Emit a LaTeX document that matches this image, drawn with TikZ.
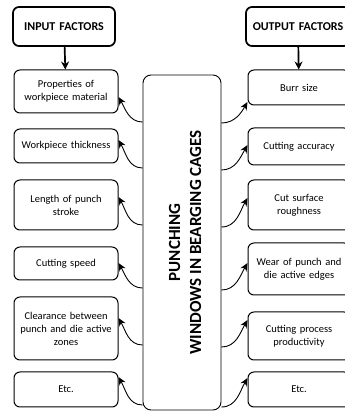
\documentclass[tikz,border=0pt]{standalone}
\usepackage{fontspec}
\setmainfont{Carlito}
\usepackage{tikz}
\usetikzlibrary{arrows.meta}

\begin{document}
\begin{tikzpicture}[x=1pt,y=1pt]
	\tikzset{factor/.style={draw,rounded corners=6pt,line width=1pt,align=center,text width=100pt,inner sep=2pt,font=\fontsize{10.5}{13}\selectfont},
		head/.style={factor,line width=1.7pt,font=\fontsize{12}{14}\selectfont\bfseries},
		flow/.style={-{Stealth[length=8pt,width=7pt]},line width=0.9pt}}
	\useasboundingbox (0,0) rectangle (345,413);

	%% input side
	\node[head,text width=98pt,minimum height=39pt] (in0) at (64,386.5) {INPUT FACTORS};
	\node[factor,minimum height=43pt] (in1) at (66,321.5) {Properties of\\workpiece material};
	\node[factor,minimum height=34pt] (in2) at (66,267) {Workpiece thickness};
	\node[factor,minimum height=50pt] (in3) at (66,208) {Length of punch\\stroke};
	\node[factor,minimum height=33pt] (in4) at (66,149.5) {Cutting speed};
	\node[factor,minimum height=63pt] (in5) at (66,84.5) {Clearance between\\punch and die active\\zones};
	\node[factor,minimum height=35pt] (in6) at (66,23.5) {Etc.};

	%% output side
	\node[head,text width=100pt,minimum height=39pt] (out0) at (298,386.5) {OUTPUT FACTORS};
	\node[factor,text width=98pt,minimum height=35pt] (out1) at (299,325.5) {Burr size};
	\node[factor,text width=98pt,minimum height=37pt] (out2) at (299,266.5) {Cutting accuracy};
	\node[factor,text width=98pt,minimum height=50pt] (out3) at (299,208) {Cut surface\\roughness};
	\node[factor,text width=98pt,minimum height=52pt] (out4) at (299,144) {Wear of punch and\\die active edges};
	\node[factor,text width=98pt,minimum height=48pt] (out5) at (299,77) {Cutting process\\productivity};
	\node[factor,text width=98pt,minimum height=35pt] (out6) at (299,23.5) {Etc.};

	%% process
	\node[draw,rounded corners=8pt,line width=0.9pt,minimum width=78pt,minimum height=335pt] (punch) at (182,170.5) {};
	\node[rotate=90,align=center,font=\fontsize{17}{21}\selectfont\bfseries] (title) at ([xshift=3pt]punch.center) {PUNCHING\\WINDOWS IN BEARGING CAGES};

	\path[flow,line width=1.7pt,-{Stealth[length=8pt,width=8pt]}]
		(in0) edge (in1)
		(out0) edge (out1);

	\path[flow]
		([yshift=-30.5pt]in1.east -| punch.west) edge[out=180,in=-60] ([yshift=-5.5pt]in1.east)
		([yshift=-22pt]in2.east -| punch.west) edge[out=180,in=-60] ([yshift=6pt]in2.east)
		([yshift=-20pt]in3.east -| punch.west) edge[out=180,in=-60] ([yshift=8pt]in3.east)
		([yshift=-24.5pt]in4.east -| punch.west) edge[out=180,in=-60] ([yshift=0.5pt]in4.east)
		([yshift=-16.5pt]in5.east -| punch.west) edge[out=180,in=-60] ([yshift=10.5pt]in5.east)
		([yshift=-15.5pt]in6.east -| punch.west) edge[out=180,in=-60] ([yshift=12.5pt]in6.east);

	\path[flow]
		([yshift=-35.5pt]out1.west -| punch.east) edge[out=0,in=240] ([yshift=-14.5pt]out1.west)
		([yshift=-23.5pt]out2.west -| punch.east) edge[out=0,in=240] ([yshift=1.5pt]out2.west)
		([yshift=-22pt]out3.west -| punch.east) edge[out=0,in=240] ([yshift=7pt]out3.west)
		([yshift=-21pt]out4.west -| punch.east) edge[out=0,in=240] ([yshift=6pt]out4.west)
		([yshift=-11pt]out5.west -| punch.east) edge[out=0,in=240] ([yshift=16pt]out5.west)
		([yshift=-17.5pt]out6.west -| punch.east) edge[out=0,in=240] ([yshift=11.5pt]out6.west);
\end{tikzpicture}
\end{document}
